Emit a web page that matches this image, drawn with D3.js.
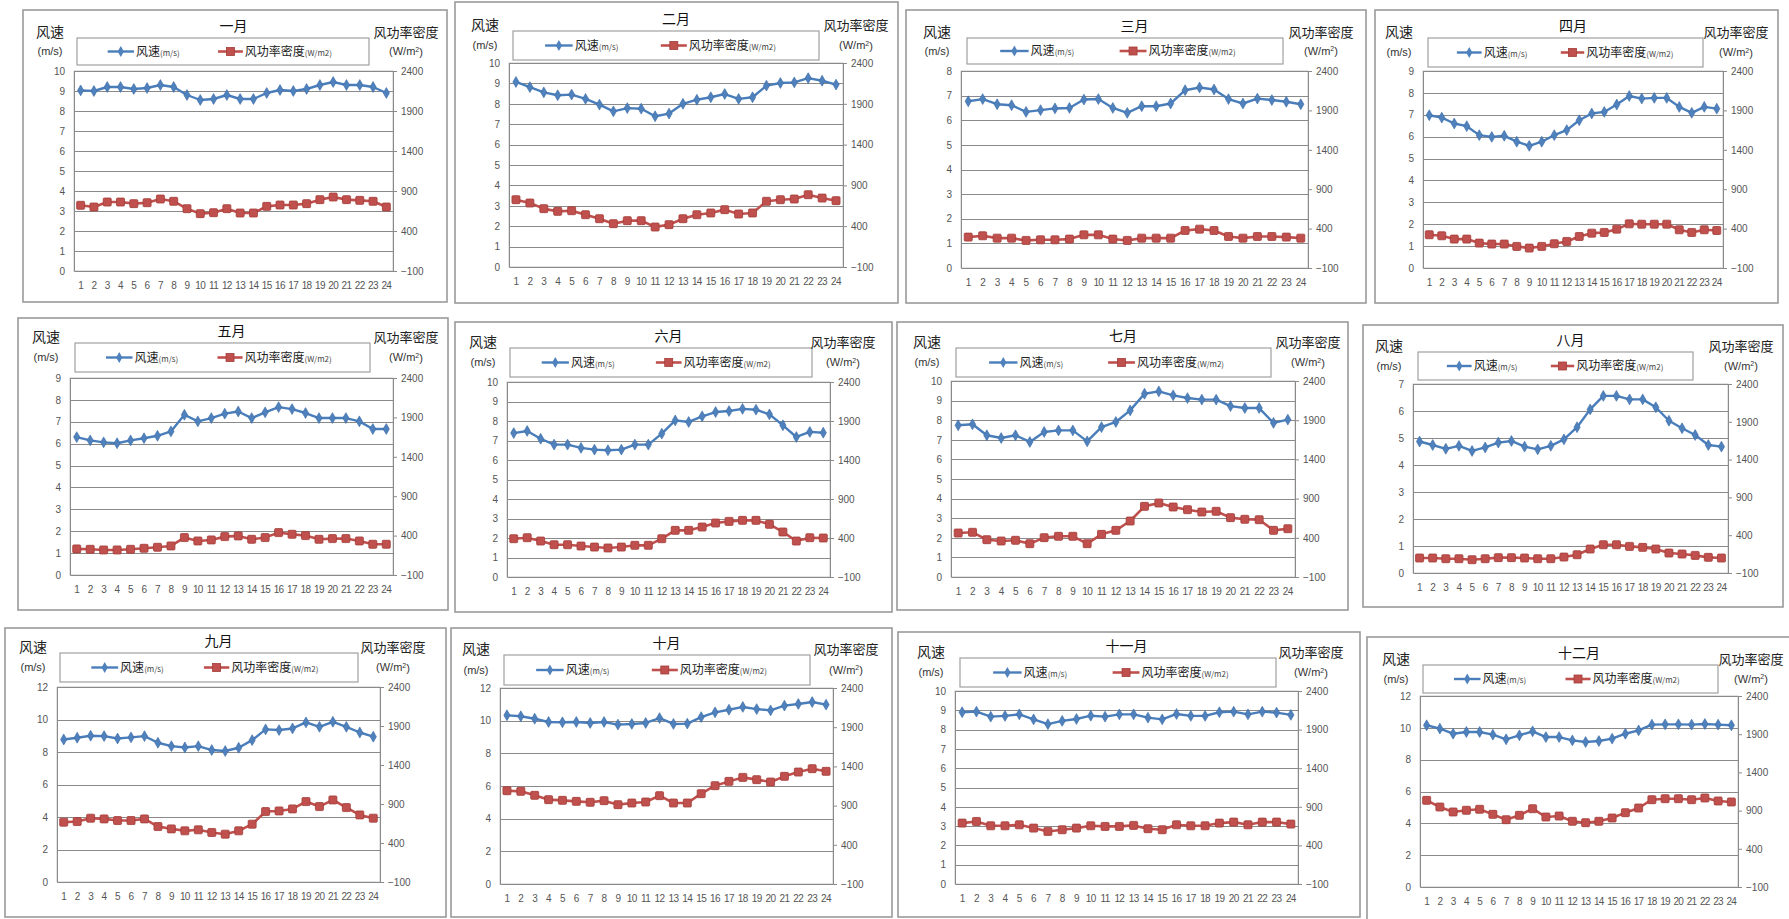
<!DOCTYPE html>
<html><head><meta charset="utf-8">
<script src="https://cdn.jsdelivr.net/npm/d3@7"></script>
<style>
body{margin:0;background:#fff;}
svg{display:block;}
text{font-family:"Liberation Sans","Noto Sans CJK SC",sans-serif;}
.cjk{font-family:"Noto Sans CJK SC","Liberation Sans",sans-serif;}
</style>
</head><body>
<script>
// ---------- DATA ----------
const months = ["一月","二月","三月","四月","五月","六月","七月","八月","九月","十月","十一月","十二月"];
const hours = ["1","2","3","4","5","6","7","8","9","10","11","12","13","14","15","16","17","18","19","20","21","22","23","24"];
const leftMax  = [10,10,8,9,9,10,10,7,12,12,10,12];
const leftStep = [1,1,1,1,1,1,1,1,2,2,1,2];
const rightTicks = [-100,400,900,1400,1900,2400];

const speed01 = [9.03,9.0,9.2,9.2,9.1,9.15,9.3,9.2,8.8,8.55,8.6,8.8,8.6,8.6,8.9,9.05,9.0,9.1,9.3,9.45,9.3,9.3,9.2,8.9];
const power01 = [721,700,762,762,742,754,800,771,679,617,629,679,625,625,708,725,725,742,792,825,792,783,771,700];
const speed02 = [9.07,8.82,8.56,8.42,8.45,8.24,7.96,7.63,7.79,7.76,7.39,7.52,8.0,8.2,8.32,8.48,8.24,8.32,8.89,9.02,9.05,9.26,9.13,8.94];
const power02 = [725,684,615,582,590,541,492,431,468,468,390,419,492,541,562,603,549,562,705,725,733,786,745,713];
const speed03 = [6.77,6.86,6.65,6.61,6.34,6.41,6.48,6.5,6.84,6.86,6.5,6.3,6.57,6.57,6.68,7.22,7.33,7.25,6.86,6.68,6.88,6.82,6.75,6.65];
const power03 = [292,309,279,279,250,258,258,267,321,321,267,250,279,279,279,376,393,376,300,279,300,300,292,279];
const speed04 = [6.98,6.87,6.6,6.48,6.07,5.99,6.04,5.77,5.58,5.77,6.07,6.3,6.75,7.06,7.13,7.47,7.86,7.74,7.77,7.77,7.36,7.09,7.36,7.28];
const power04 = [322,309,267,267,216,204,204,174,153,174,208,237,300,342,351,393,460,456,456,456,385,351,385,376];
const speed05 = [6.3,6.15,6.06,6.02,6.15,6.25,6.36,6.56,7.32,7.02,7.17,7.37,7.47,7.17,7.43,7.67,7.58,7.4,7.17,7.17,7.17,7.02,6.67,6.67];
const power05 = [231,226,218,218,226,239,252,269,375,332,345,387,396,353,375,438,417,400,353,362,362,332,290,290];
const speed06 = [7.38,7.49,7.09,6.79,6.79,6.62,6.53,6.5,6.53,6.79,6.79,7.35,8.03,7.95,8.24,8.46,8.51,8.62,8.58,8.34,7.78,7.18,7.44,7.4];
const power06 = [391,404,361,314,314,297,284,272,284,306,306,391,498,498,541,592,613,626,626,575,477,361,404,400];
const speed07 = [7.74,7.79,7.23,7.09,7.23,6.89,7.4,7.48,7.48,6.92,7.65,7.91,8.5,9.35,9.47,9.27,9.13,9.05,9.05,8.72,8.62,8.62,7.86,8.03];
const power07 = [461,470,376,359,368,325,402,419,419,325,444,495,614,801,844,793,759,729,738,657,636,631,495,516];
const speed08 = [4.87,4.74,4.6,4.71,4.52,4.65,4.83,4.89,4.68,4.58,4.71,4.95,5.4,6.06,6.56,6.56,6.43,6.43,6.14,5.64,5.36,5.11,4.74,4.68];
const power08 = [98,98,89,89,76,89,103,103,98,89,89,111,142,217,274,274,252,239,217,164,151,133,107,98];
const speed09 = [8.77,8.88,9.0,8.98,8.83,8.9,8.98,8.57,8.36,8.28,8.36,8.12,8.06,8.26,8.73,9.39,9.35,9.45,9.82,9.55,9.86,9.55,9.2,8.94];
const power09 = [667,675,718,709,688,688,709,611,581,556,569,535,513,556,641,803,811,837,931,867,952,854,760,718];
const speed10 = [10.33,10.27,10.12,9.92,9.9,9.92,9.86,9.92,9.76,9.8,9.86,10.16,9.8,9.82,10.22,10.51,10.67,10.84,10.71,10.63,10.92,11.02,11.14,10.98];
const power10 = [1090,1082,1031,976,967,954,942,963,912,933,946,1027,933,933,1052,1154,1209,1260,1231,1201,1273,1328,1371,1337];
const speed11 = [8.9,8.93,8.67,8.71,8.79,8.53,8.28,8.45,8.55,8.72,8.67,8.79,8.79,8.62,8.53,8.81,8.71,8.71,8.9,8.93,8.79,8.93,8.88,8.76];
const power11 = [689,710,654,654,667,624,581,603,624,654,646,646,659,616,603,667,654,654,689,702,667,702,702,676];
const speed12 = [10.16,9.95,9.63,9.74,9.74,9.57,9.28,9.53,9.78,9.42,9.42,9.21,9.11,9.17,9.32,9.63,9.84,10.2,10.22,10.22,10.2,10.24,10.2,10.16];
const power12 = [1034,947,882,904,917,851,781,838,925,816,829,760,742,760,803,873,934,1043,1056,1056,1043,1065,1026,1013];

const speedSeries = [speed01,speed02,speed03,speed04,speed05,speed06,speed07,speed08,speed09,speed10,speed11,speed12];
const powerSeries = [power01,power02,power03,power04,power05,power06,power07,power08,power09,power10,power11,power12];

// ---------- LAYOUT ----------
const layout = [
 {box:[23,10,447,302],  plot:[74,71,393,271],   leg:[77,38,369,65]},
 {box:[455,2,898,303],  plot:[509,63,843,267],  leg:[513,31,819,60]},
 {box:[906,10,1366,303],plot:[961,71,1308,268], leg:[967,38,1283,64]},
 {box:[1375,10,1778,303],plot:[1423,71,1723,268],leg:[1428,38,1703,67]},
 {box:[18,318,448,610], plot:[70,378,393,575],  leg:[75,343,370,372]},
 {box:[455,322,892,612],plot:[507,382,830,577], leg:[510,348,812,377]},
 {box:[897,322,1348,610],plot:[951,381,1295,577],leg:[956,348,1271,377]},
 {box:[1363,325,1783,607],plot:[1413,384,1728,573],leg:[1418,352,1693,380]},
 {box:[5,628,446,917],  plot:[57,687,380,882],  leg:[60,653,358,682]},
 {box:[451,628,892,917],plot:[500,688,833,884], leg:[504,655,810,685]},
 {box:[898,632,1360,917],plot:[955,691,1298,884],leg:[960,658,1276,687]},
 {box:[1367,637,1795,925],plot:[1420,696,1738,887],leg:[1423,665,1718,693]}
];

const W = 1789, H = 919;
const BLUE = "#4A7EBB", RED = "#C0504D";
const svg = d3.select("body").append("svg").attr("width", W).attr("height", H);

months.forEach((m, i) => {
  const L = layout[i];
  const [pl, pt, pr, pb] = L.plot;
  const g = svg.append("g");

  g.append("rect").attr("x", L.box[0]).attr("y", L.box[1])
    .attr("width", L.box[2]-L.box[0]).attr("height", L.box[3]-L.box[1])
    .attr("fill", "#fff").attr("stroke", "#9a9a9a").attr("stroke-width", 1.6);

  const x = d3.scaleBand().domain(hours).range([pl, pr]);
  const cx = d => x(d) + x.bandwidth()/2;
  const yL = d3.scaleLinear().domain([0, leftMax[i]]).range([pb, pt]);
  const yR = d3.scaleLinear().domain([-100, 2400]).range([pb, pt]);
  const lt = d3.range(0, leftMax[i] + 0.001, leftStep[i]);

  // plot area border
  g.append("rect").attr("x", pl).attr("y", pt).attr("width", pr-pl).attr("height", pb-pt)
    .attr("fill", "none").attr("stroke", "#c8c8c8").attr("stroke-width", 1);

  // gridlines
  g.append("g").selectAll("line").data(lt.slice(1)).join("line")
    .attr("x1", pl).attr("x2", pr).attr("y1", d => Math.round(yL(d))+0.5).attr("y2", d => Math.round(yL(d))+0.5)
    .attr("stroke", "#8a8a8a").attr("stroke-width", 1);

  // left axis
  const ax = g.append("g").attr("transform", `translate(${pl},0)`)
    .call(d3.axisLeft(yL).tickValues(lt).tickSize(0).tickPadding(9).tickFormat(d3.format("d")));
  ax.select(".domain").attr("stroke", "#8a8a8a");
  ax.selectAll("text").attr("font-size", 10).attr("fill", "#555");

  // right axis
  const ar = g.append("g").attr("transform", `translate(${pr},0)`)
    .call(d3.axisRight(yR).tickValues(rightTicks).tickSize(4).tickPadding(4).tickFormat(d3.format("d")));
  ar.select(".domain").attr("stroke", "#8a8a8a");
  ar.selectAll("line").attr("stroke", "#8a8a8a");
  ar.selectAll("text").attr("font-size", 10).attr("fill", "#555");

  // bottom axis
  const ab = g.append("g").attr("transform", `translate(0,${pb})`)
    .call(d3.axisBottom(x).tickSize(0).tickPadding(11));
  ab.select(".domain").attr("stroke", "#8a8a8a");
  ab.selectAll("text").attr("font-size", 10).attr("fill", "#555").attr("letter-spacing", -0.6);

  // power series (right axis)
  const pw = powerSeries[i];
  const lineP = d3.line().x((d, k) => cx(hours[k])).y(d => yR(d));
  g.append("path").datum(pw).attr("d", lineP).attr("fill", "none")
    .attr("stroke", RED).attr("stroke-width", 2.6).attr("stroke-linejoin", "round");
  g.append("g").selectAll("rect").data(pw).join("rect")
    .attr("x", (d, k) => cx(hours[k]) - 4).attr("y", d => yR(d) - 4)
    .attr("width", 8).attr("height", 8).attr("rx", 1)
    .attr("fill", RED).attr("stroke", "#a23c39").attr("stroke-width", 0.8);

  // speed series (left axis)
  const sp = speedSeries[i];
  const lineS = d3.line().x((d, k) => cx(hours[k])).y(d => yL(d));
  g.append("path").datum(sp).attr("d", lineS).attr("fill", "none")
    .attr("stroke", BLUE).attr("stroke-width", 2.4).attr("stroke-linejoin", "round");
  const dia = d3.symbol().type(d3.symbolDiamond).size(34);
  g.append("g").selectAll("path").data(sp).join("path")
    .attr("transform", (d, k) => `translate(${cx(hours[k])},${yL(d)})`)
    .attr("d", dia).attr("fill", "#4F81BD").attr("stroke", "#3a6aa5").attr("stroke-width", 0.6);

  // legend
  const [lx0, ly0, lx1, ly1] = L.leg;
  const lw = lx1 - lx0, lyc = (ly0 + ly1) / 2;
  g.append("rect").attr("x", lx0).attr("y", ly0).attr("width", lw).attr("height", ly1-ly0)
    .attr("fill", "#fff").attr("stroke", "#a0a0a0").attr("stroke-width", 1.2);
  const b0 = lx0 + 0.105*lw, b1 = lx0 + 0.195*lw;
  g.append("line").attr("x1", b0).attr("x2", b1).attr("y1", lyc).attr("y2", lyc)
    .attr("stroke", BLUE).attr("stroke-width", 2.4);
  g.append("path").attr("transform", `translate(${(b0+b1)/2},${lyc})`).attr("d", dia).attr("fill", "#4F81BD");
  const t1 = g.append("text").attr("x", b1 + 2).attr("y", lyc + 4).attr("fill", "#222").attr("class", "cjk");
  t1.append("tspan").attr("font-size", 12).text("风速");
  t1.append("tspan").attr("font-size", 8).attr("fill", "#444").text("(m/s)");
  const r0 = lx0 + 0.483*lw, r1 = lx0 + 0.568*lw;
  g.append("line").attr("x1", r0).attr("x2", r1).attr("y1", lyc).attr("y2", lyc)
    .attr("stroke", RED).attr("stroke-width", 2.6);
  g.append("rect").attr("x", (r0+r1)/2 - 4).attr("y", lyc - 4).attr("width", 8).attr("height", 8)
    .attr("fill", RED).attr("stroke", "#a23c39").attr("stroke-width", 0.8);
  const t2 = g.append("text").attr("x", r1 + 2).attr("y", lyc + 4).attr("fill", "#222").attr("class", "cjk");
  t2.append("tspan").attr("font-size", 12).text("风功率密度");
  t2.append("tspan").attr("font-size", 8).attr("fill", "#444").text("(W/m2)");

  // title
  g.append("text").attr("x", (pl + pr)/2).attr("y", ly0 - 12).attr("dy", "0.35em")
    .attr("text-anchor", "middle").attr("font-size", 14).attr("fill", "#111").attr("class", "cjk").text(m);

  // axis titles
  g.append("text").attr("x", pl - 24).attr("y", ly0 - 6).attr("dy", "0.35em")
    .attr("text-anchor", "middle").attr("font-size", 14).attr("fill", "#222").attr("class", "cjk").text("风速");
  g.append("text").attr("x", pl - 24).attr("y", lyc).attr("dy", "0.35em")
    .attr("text-anchor", "middle").attr("font-size", 11).attr("fill", "#333").text("(m/s)");
  g.append("text").attr("x", pr + 13).attr("y", ly0 - 6).attr("dy", "0.35em")
    .attr("text-anchor", "middle").attr("font-size", 13).attr("fill", "#222").attr("class", "cjk").text("风功率密度");
  const wt = g.append("text").attr("x", pr + 13).attr("y", lyc).attr("dy", "0.35em")
    .attr("text-anchor", "middle").attr("font-size", 11).attr("fill", "#333");
  wt.append("tspan").text("(W/m");
  wt.append("tspan").attr("font-size", 7).attr("dy", "-0.5em").text("2");
  wt.append("tspan").attr("dy", "0.35em").text(")");
});
</script>
</body></html>
